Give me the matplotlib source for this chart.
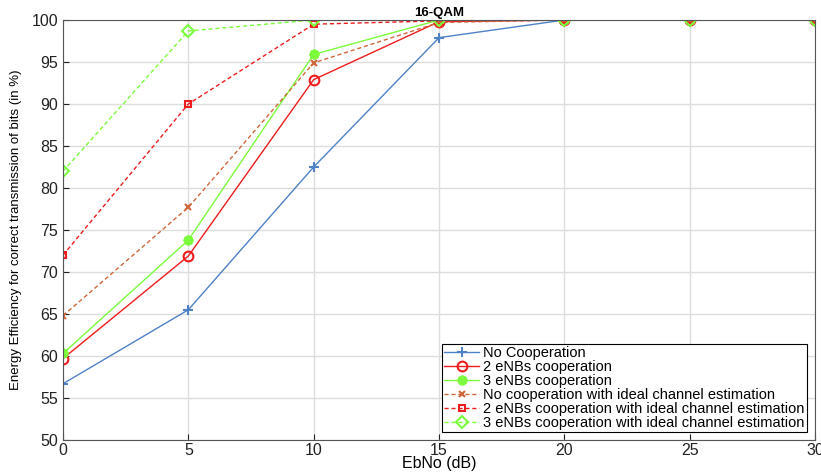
import matplotlib.pyplot as plt
import numpy as np

plt.rcParams['font.family'] = ['Liberation Sans', 'DejaVu Sans']

# EbNo values (dB)
ebno = [0, 5, 10, 15, 20, 25, 30]

# efficiency (%) per scheme
no_coop = [56.7, 65.5, 82.5, 97.9, 100, 100, 100]
enb2 = [59.7, 71.9, 92.9, 99.8, 100, 100, 100]
enb3 = [60.3, 73.8, 95.9, 100, 100, 100, 100]
no_coop_ideal = [64.8, 77.7, 94.9, 99.7, 100, 100, 100]
enb2_ideal = [72.0, 90.0, 99.5, 99.9, 100, 100, 100]
enb3_ideal = [82.0, 98.7, 100, 100, 100, 100, 100]

labels = ["No Cooperation", "2 eNBs cooperation", "3 eNBs cooperation",
          "No cooperation with ideal channel estimation",
          "2 eNBs cooperation with ideal channel estimation",
          "3 eNBs cooperation with ideal channel estimation"]

blue = '#4f81c7'
red = '#ee1c1c'
green = '#7cfc3c'
brown = '#d0673a'
dash = (0, (3, 2))

fig = plt.figure(figsize=(8.21, 4.74), dpi=100)
ax = fig.add_axes([63/821, 34/474, 752/821, 420/474])

ax.plot(ebno, no_coop, color=blue, lw=1, marker='+', ms=7, mew=1.5, label=labels[0])
ax.plot(ebno, enb2, color=red, lw=1, marker='o', ms=7, mfc='none', mew=1.5, label=labels[1])
ax.plot(ebno, enb3, color=green, lw=1, marker=(8, 2, 0), ms=7, mew=2, label=labels[2])
ax.plot(ebno, no_coop_ideal, color=brown, lw=1, ls=dash, marker='x', ms=5, mew=1.5, label=labels[3])
ax.plot(ebno, enb2_ideal, color=red, lw=1, ls=dash, marker='s', ms=5, mfc='none', mew=1.5, label=labels[4])
ax.plot(ebno, enb3_ideal, color=green, lw=1, ls=dash, marker='D', ms=6, mfc='none', mew=1.5, label=labels[5])

ax.set_xlim(0, 30)
ax.set_ylim(50, 100)
ax.set_xticks(np.arange(0, 31, 5))
ax.set_yticks(np.arange(50, 101, 5))
ax.grid(True, color='#dddddd', lw=1)
ax.set_axisbelow(True)
for s in ax.spines.values():
    s.set_color('#555555')
ax.tick_params(direction='in', labelsize=11.5, colors='#222222', length=4)
ax.tick_params(axis='x', pad=2)

ax.set_xlabel("EbNo (dB)", fontsize=11.5, labelpad=-1)
ax.set_ylabel("Energy Efficiency for correct transmission of bits (in %)", fontsize=9.5, labelpad=7)
ax.set_title("16-QAM", fontsize=9.5, fontweight='bold', pad=3)

leg = ax.legend(loc='lower right', fontsize=10.5, fancybox=False, framealpha=1,
                edgecolor='black', borderpad=0.15, labelspacing=0.0,
                handlelength=2.4, handletextpad=0.3, borderaxespad=0.55)
leg.get_frame().set_linewidth(0.8)

fig.savefig("out.png", dpi=100)
